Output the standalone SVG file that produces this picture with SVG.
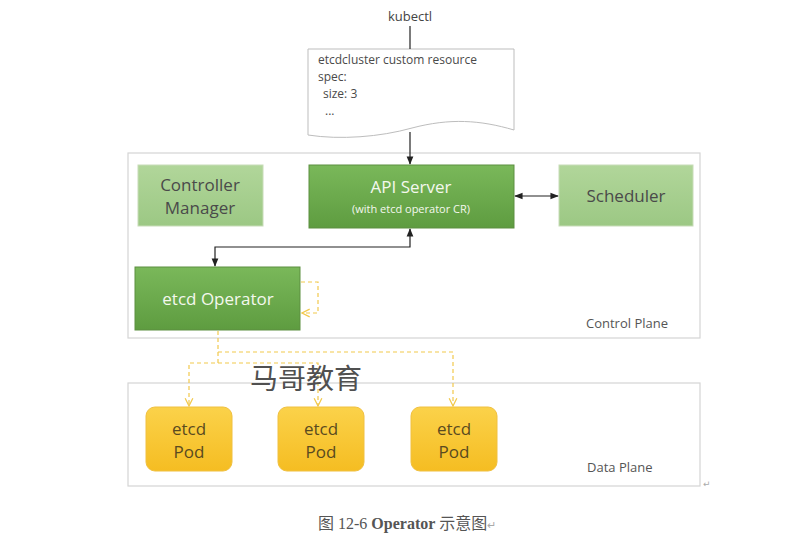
<svg xmlns="http://www.w3.org/2000/svg" width="792" height="560" viewBox="0 0 792 560">
<defs>
<style>
.sans{font-family:"Open Sans","Noto Sans","Noto Sans CJK SC",sans-serif;}
.plane{fill:#ffffff;stroke:#d4d4d4;stroke-width:1.2;}
.light{fill:url(#gLight);stroke:#c8dcb8;stroke-width:1;}
.dark{fill:url(#gDark);stroke:#5c8f40;stroke-width:1;}
.pod{fill:url(#gPod);stroke:#f0c040;stroke-width:1;}
.t-dark{fill:#4a4a4a;font-size:17px;text-anchor:middle;}
.t-white{fill:#f4f8ee;text-anchor:middle;}
.t-pod{fill:#5a4a20;font-size:17px;text-anchor:middle;}
.lbl{fill:#555;font-size:13px;}
.doc{fill:#4a4a4a;font-size:12px;}
.line{stroke:#222;stroke-width:1.2;fill:none;}
.dash{stroke:#f2c94c;stroke-width:1.2;fill:none;stroke-dasharray:4 3;}
</style>
<linearGradient id="gLight" x1="0" y1="0" x2="0" y2="1">
<stop offset="0" stop-color="#b1d69a"/><stop offset="1" stop-color="#9cc884"/>
</linearGradient>
<linearGradient id="gDark" x1="0" y1="0" x2="0" y2="1">
<stop offset="0" stop-color="#7ab85a"/><stop offset="1" stop-color="#5e9c40"/>
</linearGradient>
<linearGradient id="gPod" x1="0" y1="0" x2="0" y2="1">
<stop offset="0" stop-color="#fbd24a"/><stop offset="1" stop-color="#f5bd22"/>
</linearGradient>
<marker id="arr" viewBox="0 0 10 10" refX="9" refY="5" markerWidth="7" markerHeight="7" orient="auto-start-reverse">
<path d="M0,1 L10,5 L0,9 Z" fill="#222"/>
</marker>
<marker id="open" viewBox="0 0 10 10" refX="9" refY="5" markerWidth="8" markerHeight="8" orient="auto">
<path d="M1,1 L9,5 L1,9" fill="none" stroke="#f2c94c" stroke-width="1.3"/>
</marker>
</defs>
<rect width="792" height="560" fill="#ffffff"/>

<g id="control-plane">
<rect class="plane" x="128" y="153" width="572" height="185"/>
<text class="lbl sans" x="586" y="328">Control Plane</text>
</g>
<g id="data-plane">
<rect class="plane" x="128" y="383" width="572" height="103"/>
<text class="lbl sans" x="587" y="472">Data Plane</text>
</g>

<g id="kubectl">
<text class="sans" x="410" y="21" fill="#444" font-size="13" text-anchor="middle">kubectl</text>
</g>

<g id="resource-doc">
<path d="M308,49 H514 V130 C480,120 450,118 412,128 C380,137 340,140 308,135 Z" fill="#ffffff" stroke="#bdbdbd" stroke-width="1"/>
<text class="doc sans" x="318" y="64">etcdcluster custom resource</text>
<text class="doc sans" x="318" y="81">spec:</text>
<text class="doc sans" x="323" y="98">size: 3</text>
<text class="doc sans" x="325" y="115" font-size="10">...</text>
</g>

<g id="controller-manager">
<rect class="light" x="138" y="165" width="125" height="61"/>
<text class="t-dark sans" x="200" y="191">Controller</text>
<text class="t-dark sans" x="200" y="214">Manager</text>
</g>
<g id="api-server">
<rect class="dark" x="309" y="165" width="205" height="63"/>
<text class="t-white sans" x="411" y="193" font-size="17">API Server</text>
<text class="t-white sans" x="411" y="213" font-size="11">(with etcd operator CR)</text>
</g>
<g id="scheduler">
<rect class="light" x="559" y="165" width="134" height="61"/>
<text class="t-dark sans" x="626" y="202">Scheduler</text>
</g>
<g id="etcd-operator">
<rect class="dark" x="135" y="267" width="165" height="63"/>
<text class="t-white sans" x="218" y="305" font-size="17">etcd Operator</text>
</g>

<g id="pod1">
<rect class="pod" x="146" y="407" width="86" height="64" rx="9"/>
<text class="t-pod sans" x="189" y="435">etcd</text>
<text class="t-pod sans" x="189" y="458">Pod</text>
</g>
<g id="pod2">
<rect class="pod" x="278" y="407" width="86" height="64" rx="9"/>
<text class="t-pod sans" x="321" y="435">etcd</text>
<text class="t-pod sans" x="321" y="458">Pod</text>
</g>
<g id="pod3">
<rect class="pod" x="411" y="407" width="86" height="64" rx="9"/>
<text class="t-pod sans" x="454" y="435">etcd</text>
<text class="t-pod sans" x="454" y="458">Pod</text>
</g>

<g id="connectors">
<line class="line" x1="410" y1="26" x2="410" y2="49"/>
<line class="line" x1="410" y1="132" x2="410" y2="164" marker-end="url(#arr)"/>
<line class="line" x1="515" y1="196" x2="558" y2="196" marker-start="url(#arr)" marker-end="url(#arr)"/>
<polyline class="line" points="410,229 410,247 215,247 215,266" marker-start="url(#arr)" marker-end="url(#arr)"/>
<polyline class="dash" points="301,282 318,282 318,313 302,313" marker-end="url(#open)"/>
<polyline class="dash" points="218,331 218,352 453,352 453,406" marker-end="url(#open)"/>
<polyline class="dash" points="218,352 218,363 189,363 189,406" marker-end="url(#open)"/>
<polyline class="dash" points="218,363 318,363 318,406" marker-end="url(#open)"/>
</g>

<g id="watermark">
<text x="250" y="389" fill="#505050" font-size="28" style="font-family:'Noto Sans CJK SC',sans-serif">马哥教育</text>
</g>
<g id="caption">
<text x="703" y="487" fill="#aaa" font-size="9" style="font-family:'DejaVu Sans',sans-serif">↵</text>
<text x="318" y="529" fill="#555" font-size="16" style="font-family:'Liberation Serif','Noto Sans CJK SC',serif">图 12-6 <tspan font-weight="bold">Operator</tspan> 示意图<tspan fill="#aaa" font-size="11">↵</tspan></text>
</g>
</svg>
